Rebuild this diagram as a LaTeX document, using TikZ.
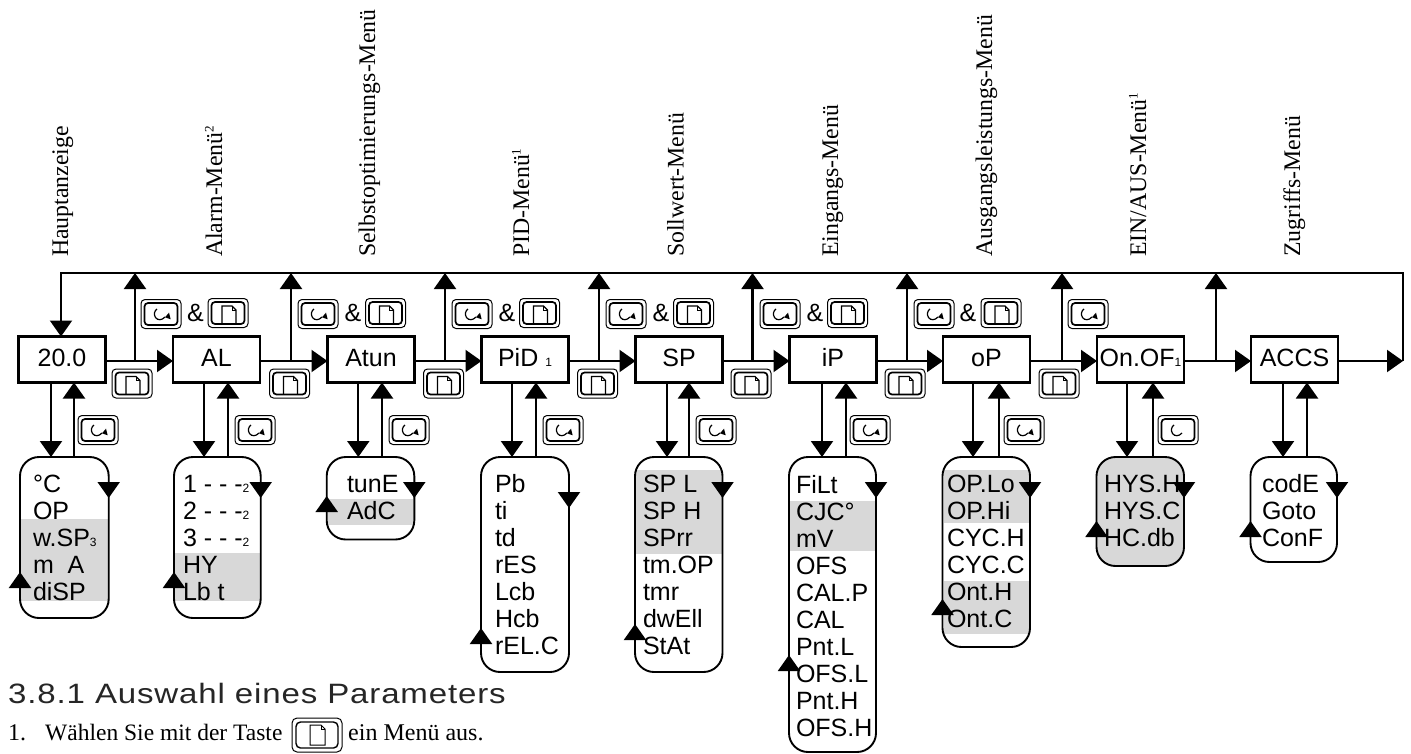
\documentclass[tikz,border=0pt]{standalone}
\usepackage{fontspec}
\setmainfont{Liberation Serif}
\newfontfamily\arfont{Liberation Sans}
\newfontfamily\headfont[FakeStretch=1.18,LetterSpace=3]{Liberation Sans}
\usetikzlibrary{arrows.meta,calc}
\definecolor{band}{HTML}{D8D8D8}
\newcommand{\smalln}[1]{{\fontsize{12}{12}\selectfont #1}}
\newcommand{\supn}[1]{\raisebox{8.5pt}{\fontsize{13}{13}\selectfont #1}}
\tikzset{
  conn/.style={line width=2.1pt,draw=black},
  arr/.style={conn,-{Triangle[length=16pt,width=22pt]}},
  menubox/.style={draw=black,line width=2.1pt,fill=white,inner sep=0pt,outer sep=0pt,
    minimum width=87pt,text height=29.5pt,text depth=16.5pt,
    font=\arfont\fontsize{25}{27}\selectfont},
  listbox/.style={draw=black,line width=1.9pt,rounded corners=19pt,inner sep=0pt,outer sep=0pt},
  ltext/.style={anchor=base west,inner sep=0pt,outer sep=0pt,font=\arfont\fontsize{25}{27}\selectfont},
  amp/.style={anchor=base,inner sep=0pt,font=\arfont\fontsize{25}{27}\selectfont},
  vlabel/.style={rotate=90,anchor=base west,inner sep=0pt,font=\fontsize{23.8}{24}\selectfont},
  rkeyface/.pic={
    \draw[line width=1pt,rounded corners=4pt] (-20,-14.5) rectangle (20,14.5);
    \draw[line width=1.7pt,rounded corners=3.5pt] (-16.5,-11) rectangle (16.5,11);
    \draw[line width=1.2pt] (-4,-5) .. controls (-6.5,-3.5) and (-7.5,0.5) .. (-5.5,3.5)
       .. controls (-3.5,6.5) and (1,6.5) .. (4,3);
  },
  rkey/.pic={
    \pic {rkeyface};
    \fill (4,3.3) -- (9.7,5.3) -- (8,-1.3) -- cycle;
  },
  pkey/.pic={
    \draw[line width=1pt,rounded corners=4pt] (-20,-14.5) rectangle (20,14.5);
    \draw[line width=1.7pt,rounded corners=3.5pt] (-16.5,-11) rectangle (16.5,11);
    \draw[line width=1.2pt] (-6,11) -- (-6,-7) -- (4,-7) -- (8,-3) -- (8,11);
    \draw[line width=.8pt] (4,-7) -- (4,-3) -- (8,-3);
  },
  ikey/.pic={
    \draw[line width=1pt,rounded corners=5pt] (-25,-17) rectangle (25,17);
    \draw[line width=1.4pt,rounded corners=4.5pt] (-21,-13) rectangle (21,13);
    \draw[line width=1pt] (-7,10) -- (-7,-10) -- (4,-10) -- (8,-6) -- (8,10) -- cycle;
    \draw[line width=.7pt] (4,-10) -- (4,-6) -- (8,-6);
  },
}
\newcommand{\listitems}[5]{% col, x, first baseline, step, items
  \foreach \t [count=\n] in {#5} {
    \pgfmathsetmacro{\yy}{#3+#4*(\n-1)}
    \node[ltext] (t#1-\n) at (#2,\yy) {\t};
  }
}
\begin{document}
\begin{tikzpicture}[x=1pt,y=-1pt]
\useasboundingbox (0,0) rectangle (1411,753);
% gray bands
\fill[band] (21,519) rectangle (107.7,601);
\fill[band] (175,553) rectangle (259.7,601);
\fill[band] (328,499) rectangle (413,525);
\fill[band] (636,470) rectangle (721.5,554);
\fill[band] (790,501) rectangle (875,551);
\fill[band] (943.5,470) rectangle (1029,523);
\fill[band] (943.5,581) rectangle (1029,634);
\fill[band,rounded corners=19pt] (1096.5,457) rectangle (1184,566);
% main boxes
\node[menubox] (b1) at (62,359.5) {20.0};
\node[menubox] (b2) at (216.5,359.5) {AL};
\node[menubox] (b3) at (371,359.5) {Atun};
\node[menubox] (b4) at (525,359.5) {PiD \smalln{1}};
\node[menubox] (b5) at (679,359.5) {SP};
\node[menubox] (b6) at (833,359.5) {iP};
\node[menubox] (b7) at (986.5,359.5) {oP};
\node[menubox] (b8) at (1140.5,359.5) {On.OF\smalln{1}};
\node[menubox] (b9) at (1294.5,359.5) {ACCS};
% level coordinates
\coordinate (hl) at (0,361);
\coordinate (top) at (0,273);
\coordinate (rc) at (1403,361);
\coordinate (rt) at (1403,273);
\coordinate (lt) at (61,273);
% list boxes, connectors to and from the boxes
\foreach \i/\lx/\rx/\by/\dnx/\upx in {
  1/20/108.7/618/51/74,
  2/174/260.7/618/204/228,
  3/326.7/414.3/539.5/358.3/382,
  4/481/569/672/512/536,
  5/635/722.5/672/667/689,
  6/789/876/752/822/846,
  7/942.5/1030/647/973/999,
  8/1096.5/1184/566/1127/1153,
  9/1250.5/1337/562/1283/1307}{
  \pgfmathsetmacro{\cx}{(\lx+\rx)/2}
  \pgfmathsetmacro{\cy}{(457+\by)/2}
  \pgfmathsetmacro{\ww}{\rx-\lx}
  \pgfmathsetmacro{\hh}{\by-457}
  \node[listbox,minimum width=\ww pt,minimum height=\hh pt] (l\i) at (\cx,\cy) {};
  \coordinate (dn\i) at (\dnx,0);
  \coordinate (up\i) at (\upx,0);
  \draw[arr] (b\i.south -| dn\i) -- (l\i.north -| dn\i);
  \draw[arr] (l\i.north -| up\i) -- (b\i.south -| up\i);
}
% list texts
\listitems{1}{33}{492}{27.2}{°C,OP,w.SP\smalln{3},m\ \ A,diSP}
\listitems{2}{183}{492}{27.2}{1 - - -\smalln{2},2 - - -\smalln{2},3 - - -\smalln{2},HY,Lb t}
\listitems{3}{347}{492}{27.2}{tunE,AdC}
\listitems{4}{495}{492}{27}{Pb,ti,td,rES,Lcb,Hcb,rEL.C}
\listitems{5}{643}{492}{27}{SP L,SP H,SPrr,tm.OP,tmr,dwEll,StAt}
\listitems{6}{796}{493}{27.1}{FiLt,CJC°,mV,OFS,CAL.P,CAL,Pnt.L,OFS.L,Pnt.H,OFS.H}
\listitems{7}{947}{492}{27.1}{OP.Lo,OP.Hi,CYC.H,CYC.C,Ont.H,Ont.C}
\listitems{8}{1104}{492}{27.2}{HYS.H,HYS.C,HC.db}
\listitems{9}{1262}{492}{27.2}{codE,Goto,ConF}
% side arrows on the lists
\foreach \i/\ra/\la in {1/498/572,2/498/572,3/498/496,4/508/628,5/498/624,6/498/655,7/498/599,8/498/521,9/498/521}{
  \pgfmathsetmacro{\rb}{\ra-16}
  \pgfmathsetmacro{\lb}{\la+16}
  \coordinate (ra\i) at (0,\ra);
  \coordinate (rb\i) at (0,\rb);
  \coordinate (la\i) at (0,\la);
  \coordinate (lb\i) at (0,\lb);
  \draw[arr] (l\i.east |- rb\i) -- (l\i.east |- ra\i);
  \draw[arr] (l\i.west |- lb\i) -- (l\i.west |- la\i);
}
% main flow
\foreach \a/\c in {1/2,2/3,3/4,4/5,5/6,6/7,7/8,8/9}{
  \draw[arr] (b\a.east |- hl) -- (b\c.west |- hl);
}
\draw[arr] (b9.east |- hl) -- (rc);
\draw[arr] (rc) -- (rt) -- (lt) -- (b1.north -| lt);
% return tapping lines
\foreach \x [count=\k] in {135,291,445,599,752.5,907,1062,1216}{
  \coordinate (tap\k) at (\x,0);
  \draw[arr] (hl -| tap\k) -- (top -| tap\k);
}
% keys
\foreach \x [count=\k] in {132,289.5,443.5,597.5,751,905,1059}{ \pic (sk\k) at (\x,383.5) {pkey}; }
\foreach \x [count=\k] in {161,318,472,626,780,934,1088}{ \pic (rt\k) at (\x,314) {rkey}; }
\foreach \x [count=\k] in {228,385.5,539.5,693.5,847.5,1001}{ \pic (pt\k) at (\x,313) {pkey}; }
\foreach \x [count=\k] in {195.5,353,507,661,815,968}{ \node[amp] (amp\k) at (\x,321) {\&}; }
\foreach \x [count=\k] in {98,255,409,563,716,870,1024}{ \pic (rl\k) at (\x,430) {rkey}; }
\pic (rl8) at (1178,430) {rkeyface};
% rotated labels
\node[vlabel] (v1) at (68,257) {Hauptanzeige};
\node[vlabel] (v2) at (222,257) {Alarm-Menü\supn{2}};
\node[vlabel] (v3) at (375,257) {Selbstoptimierungs-Menü};
\node[vlabel] (v4) at (529,257) {PID-Menü\supn{1}};
\node[vlabel] (v5) at (683.5,257) {Sollwert-Menü};
\node[vlabel] (v6) at (838,257) {Eingangs-Menü};
\node[vlabel] (v7) at (992,257) {Ausgangsleistungs-Menü};
\node[vlabel] (v8) at (1146,257) {EIN/AUS-Menü\supn{1}};
\node[vlabel] (v9) at (1300,257) {Zugriffs-Menü};
% bottom text
\node[anchor=base west,inner sep=0pt,text=black!85,font=\headfont\fontsize{28}{28}\selectfont] (head) at (8,703) {3.8.1 Auswahl eines Parameters};
\node[anchor=base west,inner sep=0pt,font=\fontsize{24}{24}\selectfont] (n1) at (8,740) {1.};
\node[anchor=base west,inner sep=0pt,font=\fontsize{23.5}{24}\selectfont] (n2) at (45,740) {Wählen Sie mit der Taste};
\pic (ik) at (317,735) {ikey};
\node[anchor=base west,inner sep=0pt,font=\fontsize{24}{24}\selectfont] (n3) at (348,740) {ein Menü aus.};
\end{tikzpicture}
\end{document}
